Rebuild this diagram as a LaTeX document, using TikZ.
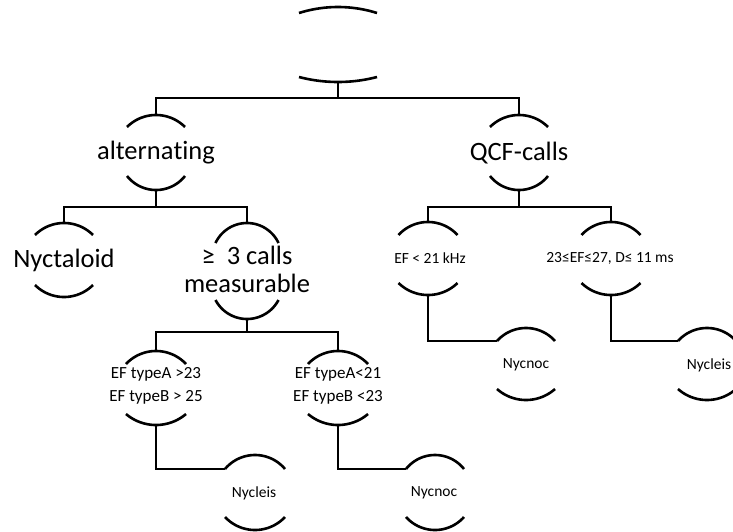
\documentclass[tikz,border=0pt]{standalone}
\usepackage{fontspec}
\setmainfont[Ligatures=NoCommon]{Carlito}
\tikzset{
  tree/.style={line width=2.6pt},
  big/.style={font=\fontsize{26.5}{28}\selectfont, inner sep=0pt, align=center},
  small/.style={font=\fontsize{15.5}{23}\selectfont, inner sep=0pt, align=center},
  mid/.style={font=\fontsize{17}{23}\selectfont, inner sep=0pt, align=center},
  pics/tophood/.style 2 args={code={
    \pgfmathsetmacro\hr{((#1)*(#1)+(#2)*(#2))/(2*(#2))}
    \pgfmathsetmacro\ha{90-asin((#1)/\hr)}
    \pgfmathsetmacro\hb{90+asin((#1)/\hr)}
    \draw[tree] plot[domain=\ha:\hb, samples=40, variable=\t, smooth]
      ({\hr*cos(\t)}, {-(#2)+\hr-\hr*sin(\t)});
  }},
  pics/bothood/.style 2 args={code={
    \pgfmathsetmacro\hr{((#1)*(#1)+(#2)*(#2))/(2*(#2))}
    \pgfmathsetmacro\ha{90-asin((#1)/\hr)}
    \pgfmathsetmacro\hb{90+asin((#1)/\hr)}
    \draw[tree] plot[domain=\ha:\hb, samples=40, variable=\t, smooth]
      ({\hr*cos(\t)}, {(#2)-\hr+\hr*sin(\t)});
  }},
}
\begin{document}
\begin{tikzpicture}[x=1pt,y=-1pt]
\useasboundingbox (0,0) rectangle (733,531);
% root
\pic at (338,13) {tophood={39}{6}};
\pic at (338,77) {bothood={39}{5}};
\node (root) at (338,45) {};
\coordinate (root-b) at (338,82);
% alternating
\pic at (156,127) {tophood={29}{12}};
\pic at (156,176) {bothood={29}{14}};
\node[big] (alt) at (156,153) {alterna\kern0pt ting};
\coordinate (alt-t) at (156,115);
\coordinate (alt-b) at (156,190);
% QCF-calls
\pic at (519,127) {tophood={29}{12}};
\pic at (519,176) {bothood={29}{14}};
\node[big] (qcf) at (519,153) {QCF-calls};
\coordinate (qcf-t) at (519,115);
\coordinate (qcf-b) at (519,190);
% Nyctaloid
\pic at (64,235) {tophood={29}{12}};
\pic at (64,285) {bothood={29}{12}};
\node[big] (nyc) at (64,260) {Nyctaloid};
\coordinate (nyc-t) at (64,223);
% measurable
\pic at (247,243) {tophood={31.5}{20}};
\pic at (247,300) {bothood={31.5}{19}};
\node[big] (meas) at (247,269) {≥\ \ 3 calls\\measurable};
\coordinate (meas-t) at (247,223);
\coordinate (meas-b) at (247,319);
% EF typeA >23
\pic at (156,364) {tophood={30}{13}};
\pic at (156,414) {bothood={30}{11}};
\node[mid] (efa) at (156,386) {EF typeA >23\\EF typeB > 25};
\coordinate (efa-t) at (156,351);
\coordinate (efa-b) at (156,425);
% EF typeA<21
\pic at (338,364) {tophood={30}{13}};
\pic at (338,414) {bothood={30}{11}};
\node[mid] (efb) at (338,386) {EF typeA<21\\EF typeB <23};
\coordinate (efb-t) at (338,351);
\coordinate (efb-b) at (338,425);
% Nycleis 1
\pic at (255,469) {tophood={30}{14}};
\pic at (255,517) {bothood={30}{13}};
\node[small] (ncl1) at (254,493) {Nycleis};
\coordinate (ncl1-l) at (225,469);
% Nycnoc 1
\pic at (435,469) {tophood={29}{14}};
\pic at (435,517) {bothood={29}{13}};
\node[small] (nno1) at (434,493) {Nycnoc};
\coordinate (nno1-l) at (406,469);
% EF < 21 kHz
\pic at (428,235) {tophood={29.5}{13}};
\pic at (428,283) {bothood={29.5}{12}};
\node[small] (khz) at (430,258) {EF < 21 kHz};
\coordinate (khz-t) at (428,222);
\coordinate (khz-b) at (428,295);
% 23<=EF<=27
\pic at (611,235) {tophood={29.5}{13}};
\pic at (611,283) {bothood={29.5}{12}};
\node[small] (ef23) at (610,258) {23≤EF≤27, D≤ 11 ms};
\coordinate (ef23-t) at (611,222);
\coordinate (ef23-b) at (611,295);
% Nycnoc 2
\pic at (526,341) {tophood={29}{13}};
\pic at (526,389) {bothood={29}{11}};
\node[small] (nno2) at (526,365) {Nycnoc};
\coordinate (nno2-l) at (497,341);
% Nycleis 2
\pic at (707,341) {tophood={29}{13}};
\pic at (707,389) {bothood={29}{11}};
\node[small] (ncl2) at (709,365) {Nycleis};
\coordinate (ncl2-l) at (678,341);
% bars
\coordinate (bar0) at (0,98);
\coordinate (bar1) at (0,207);
\coordinate (bar2) at (0,332);
% connectors
\draw[tree] (root-b) -- (root-b |- bar0);
\draw[tree] (alt-t) -- (alt-t |- bar0) -- (qcf-t |- bar0) -- (qcf-t);
\draw[tree] (alt-b) -- (alt-b |- bar1);
\draw[tree] (nyc-t) -- (nyc-t |- bar1) -- (meas-t |- bar1) -- (meas-t);
\draw[tree] (qcf-b) -- (qcf-b |- bar1);
\draw[tree] (khz-t) -- (khz-t |- bar1) -- (ef23-t |- bar1) -- (ef23-t);
\draw[tree] (meas-b) -- (meas-b |- bar2);
\draw[tree] (efa-t) -- (efa-t |- bar2) -- (efb-t |- bar2) -- (efb-t);
\draw[tree] (efa-b) |- (ncl1-l);
\draw[tree] (efb-b) |- (nno1-l);
\draw[tree] (khz-b) |- (nno2-l);
\draw[tree] (ef23-b) |- (ncl2-l);
\end{tikzpicture}
\end{document}
